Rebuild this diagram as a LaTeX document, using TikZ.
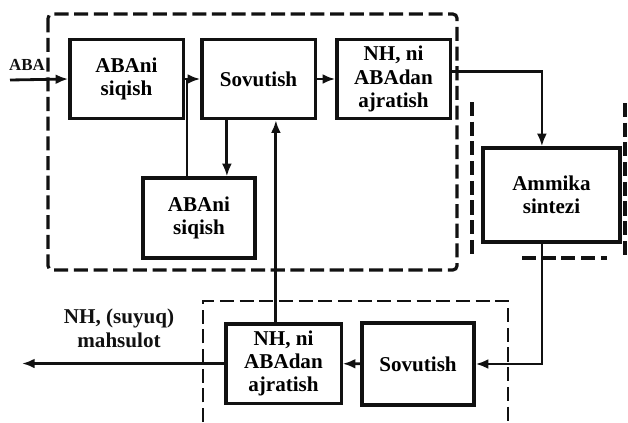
\documentclass[tikz,border=0pt]{standalone}
\usepackage{fontspec}
\setmainfont{Liberation Serif}
\usepackage{xcolor}
\usepackage{tikz}
\usetikzlibrary{positioning,arrows.meta}
\definecolor{inkblack}{HTML}{111111}

\tikzset{
  stage/.style={draw=inkblack, line width=2.3pt, fill=white, align=center,
    font=\fontsize{15}{16.5}\selectfont\bfseries, inner sep=2pt},
  flow/.style={draw=inkblack, line width=2pt, -{Latex[length=9pt,width=7pt]}},
  plain/.style={draw=inkblack, line width=2pt},
  group/.style={draw=inkblack, line width=2.3pt, dash pattern=on 10pt off 4pt},
  tag/.style={font=\fontsize{15}{17}\selectfont\bfseries, align=center, text=inkblack}
}

\begin{document}
\begin{tikzpicture}[x=0.025cm,y=-0.025cm]
\useasboundingbox (0,0) rectangle (628,422);

% dashed groups
\draw[group, rounded corners=3pt] (48,14) rectangle (457,270);
\draw[group, line width=3pt] (472,102) -- (472,257);
\draw[group, line width=3pt] (625,103) -- (625,257);
\draw[group] (522,258) -- (607,258);
\draw[group, line width=1.8pt] (203,422) -- (203,301) -- (508,301) -- (508,422);

% stages
\node[stage, minimum width=2.83cm, minimum height=1.98cm] (siqish1) at (126.5,79) {ABAni\\siqish};
\node[stage, minimum width=2.83cm, minimum height=1.98cm] (sovut1) at (258.5,79) {Sovutish};
\node[stage, minimum width=2.83cm, minimum height=1.98cm] (ajrat1) at (393.5,79) {NH, ni\\ABAdan\\ajratish};
\node[stage, minimum width=2.8cm, minimum height=2cm] (siqish2) at (199,218) {ABAni\\siqish};
\node[stage, minimum width=3.42cm, minimum height=2.35cm] (sintez) at (551.5,195) {Ammika\\sintezi};
\node[stage, minimum width=2.88cm, minimum height=1.98cm] (ajrat2) at (283.5,363.5) {NH, ni\\ABAdan\\ajratish};
\node[stage, minimum width=2.8cm, minimum height=2.05cm] (sovut2) at (418,364) {Sovutish};

\coordinate (abain) at (10,80);
\coordinate (jn) at (187,80);
\coordinate (chiqish) at (22,363.5);

% flows
\draw[flow] (abain) -- (siqish1.west);
\node[tag, font=\fontsize{12}{14}\selectfont\bfseries] (abalbl) at (27,65) {ABA};
\draw[flow] (siqish1) -- (sovut1);
\draw[flow] (sovut1) -- (ajrat1);
\draw[plain] (siqish2.north -| jn) -- (jn);
\draw[flow] ([xshift=-0.79cm]sovut1.south) -- ([xshift=-0.79cm]sovut1.south |- siqish2.north);
\draw[flow] ([xshift=-0.19cm]ajrat2.north) -- ([xshift=-0.19cm]ajrat2.north |- sovut1.south);
\draw[flow] ([yshift=0.18cm]ajrat1.east) -| ([xshift=-0.24cm]sintez.north);
\draw[flow] ([xshift=-0.24cm]sintez.south) |- (sovut2.east);
\draw[flow] (sovut2) -- (ajrat2);
\draw[flow] (ajrat2) -- (chiqish);
\node[tag] (mahsulot) at (119,328) {NH, (suyuq)\\mahsulot};
\end{tikzpicture}
\end{document}
